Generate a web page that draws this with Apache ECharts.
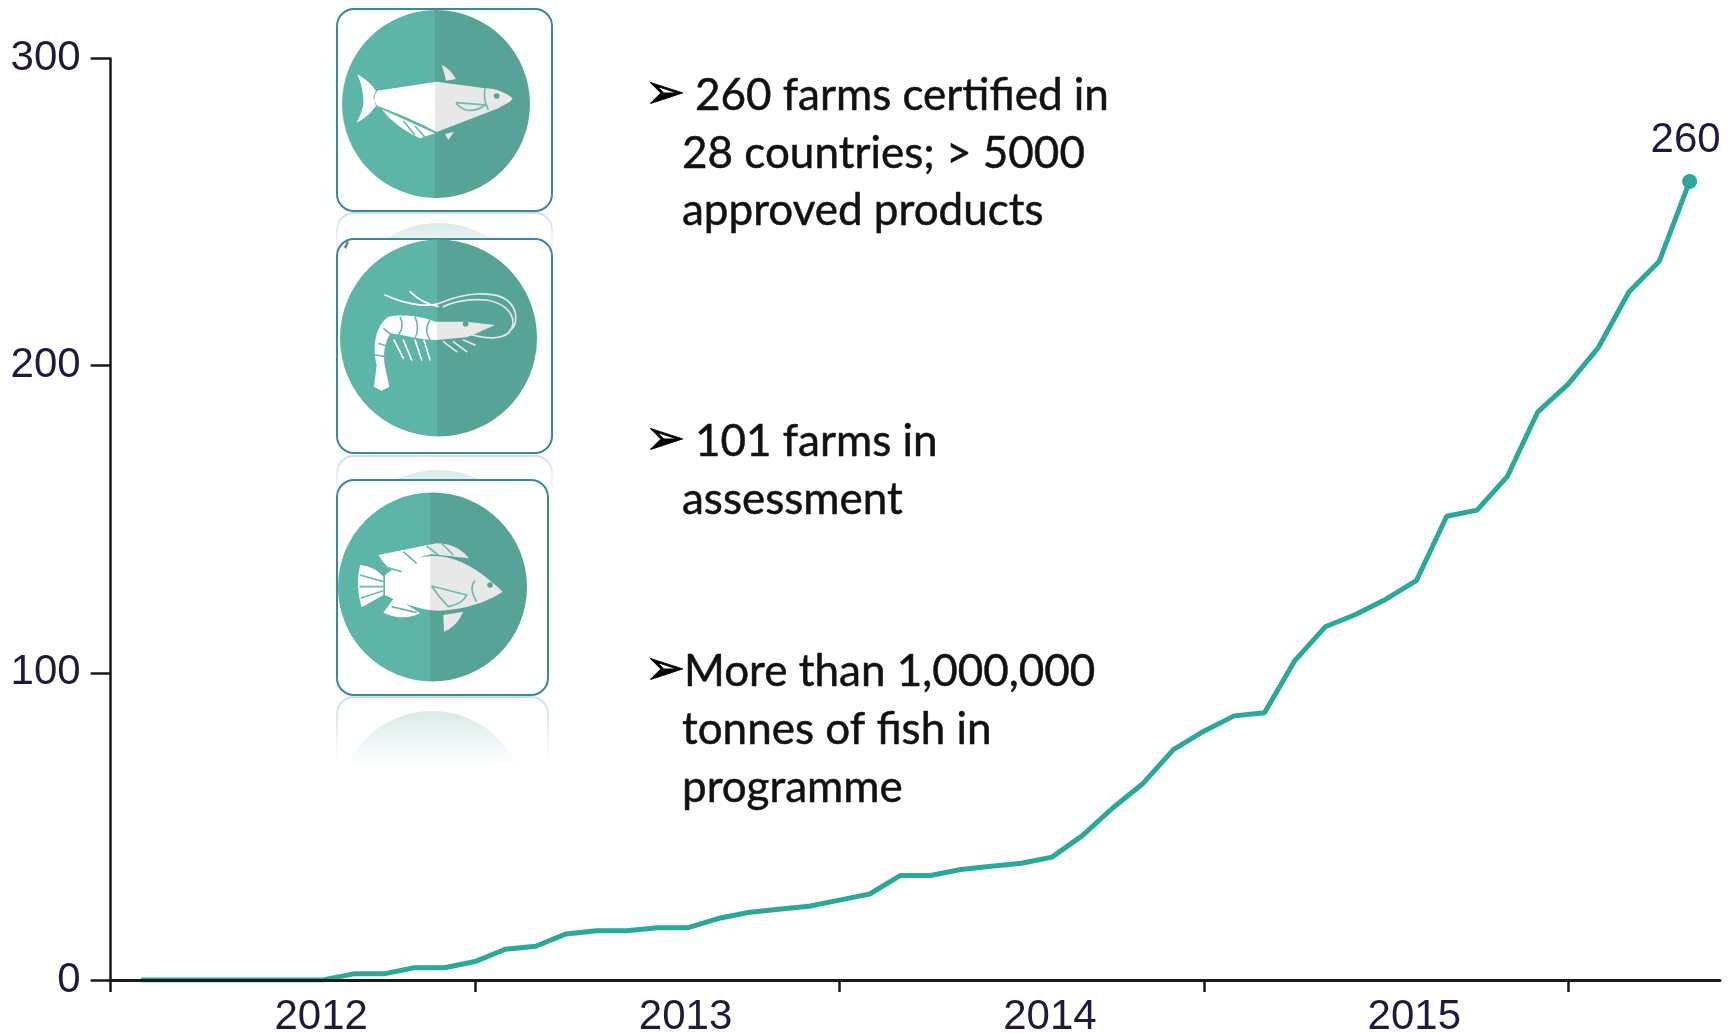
<!DOCTYPE html>
<html><head><meta charset="utf-8">
<script src="https://cdn.jsdelivr.net/npm/echarts@6/dist/echarts.min.js"></script>
<style>html,body{margin:0;padding:0;background:#fff}#c{width:1734px;height:1033px}</style>
</head><body><div id="c"></div>
<script>
const yearLabels = ['2012','2013','2014','2015'];
const farmsCertified = [null,
 0,0,0,0,0,0,0,2,2,4,4,6,
 10,11,15,16,16,17,17,20,22,23,24,26,
 28,34,34,36,37,38,40,47,56,64,75,81,
 86,87,104,115,119,124,130,151,153,164,185,194,
 206,224,234,260,null];
const yTicks = {min:0,max:300,interval:100};
const notes = [
 {lines:['260 farms certified in','28 countries; > 5000','approved products'], first:695, rest:682, y:[96,154,211], ay:96},
 {lines:['101 farms in','assessment'], first:695, rest:682, y:[442,500], ay:442},
 {lines:['More than 1,000,000','tonnes of fish in','programme'], first:684, rest:682, y:[672,730,788], ay:672}
];
const categories = farmsCertified.map((v,i)=> i%12===7 ? yearLabels[(i-7)/12] : String(i));
const lastIdx = farmsCertified.length-2;

const TEAL_L='#5db5a8', TEAL_R='#57a398', BOX='#3a87a0', LINE='#2aa899';
const g=[];
let shapeCount=0;
function shapeFrom(d){
  const name='artShape'+(shapeCount++);
  echarts.graphic.registerShape(name,echarts.graphic.extendPath(d,{}));
  return name;
}
function cap(cx,cy,r,top,h){
  g.push({type:'circle',silent:true,z:1,shape:{cx,cy,r},style:{fill:new echarts.graphic.LinearGradient(0,top,0,top+h,[
    {offset:0,color:'rgba(87,163,152,0.24)'},{offset:1,color:'rgba(87,163,152,0)'}],true)}});
}
function reflect(x,y,w,h){
  g.push({type:'rect',silent:true,z:1,shape:{x,y,width:w,height:h,r:[17,17,0,0]},style:{fill:'rgba(0,0,0,0)',lineWidth:2,
    stroke:new echarts.graphic.LinearGradient(0,y,0,y+h,[{offset:0,color:'rgba(58,135,160,0.25)'},{offset:1,color:'rgba(58,135,160,0)'}],true)}});
}
function box(x,y,w,h){
  g.push({type:'rect',silent:true,z:2,shape:{x,y,width:w,height:h,r:17},style:{fill:'#fff',stroke:BOX,lineWidth:2}});
}
function disc(cx,cy,r,split){
  g.push({type:'circle',silent:true,z:3,shape:{cx,cy,r},style:{fill:new echarts.graphic.LinearGradient(cx-r,0,cx+r,0,[
    {offset:0,color:TEAL_L},{offset:(split-cx+r)/(2*r),color:TEAL_L},{offset:(split-cx+r)/(2*r),color:TEAL_R},{offset:1,color:TEAL_R}],true)}});
}
function art(ox,oy,split,fillD,strokeWhite,strokeTeal,eye){
  const grad=()=>new echarts.graphic.LinearGradient(0,0,2000,0,[
    {offset:0,color:'#fff'},{offset:split/2000,color:'#fff'},{offset:split/2000,color:'#e8e8e8'},{offset:1,color:'#e8e8e8'}],true);
  const base={silent:true,z:4,x:ox,y:oy,scaleX:1/3,scaleY:1/3};
  if(fillD) g.push(Object.assign({type:shapeFrom(fillD),style:{fill:grad(),stroke:'none'}},base));
  if(strokeWhite) g.push(Object.assign({type:shapeFrom(strokeWhite),style:{fill:'none',stroke:grad(),lineWidth:5,lineCap:'round'}},base));
  if(strokeTeal) g.push(Object.assign({type:shapeFrom(strokeTeal),style:{fill:'none',stroke:'#6fb8ad',lineWidth:5}},base));
  g.push({type:'circle',silent:true,z:4,shape:{cx:ox+eye[0]/3,cy:oy+eye[1]/3,r:2.8},style:{fill:'#5a9f95'}});
}

// reflections
reflect(337,213,215,40); cap(438,318,95,224,30);
reflect(337,456,215,40); cap(438,568,98,470,30);
reflect(337,697,211,66); cap(432,805,94,710,56);
// boxes and discs
box(337,9,215,202); disc(436,104,94,435);
box(337,239,215,214); disc(438.5,338,98.5,437);
box(337,480,211,215); disc(432.5,587,94.5,430);
g.push({type:'polygon',silent:true,z:5,shape:{points:[[344,247],[347,241],[349,242],[346,249]]},style:{fill:'#777'}});

art(320,0,345,
 'M112,222 Q150,245 168,272 L160,292 L168,318 Q140,355 110,368 Q135,320 130,295 Q128,260 112,222Z '+
 'M172,272 L350,245 L495,265 C530,265 560,280 578,295 C570,310 555,312 535,325 L350,396 C300,368 220,335 172,318 C160,300 160,290 172,272Z '+
 'M365,195 Q390,205 408,237 L378,242 Q372,215 365,195Z '+
 'M185,328 L345,400 L300,415 Q230,385 185,328Z M375,402 L402,395 L385,420Z',
 null,
 'M408,308 L495,315 Q470,335 440,330 Q420,325 408,308 M495,265 Q488,295 505,330 M250,362 L285,405 M285,378 L315,412',
 [530,288]);

art(320,0,352,
 'M205,950 C240,943 300,945 345,965 L440,965 L525,975 L470,1000 L440,1012 L350,1020 C300,1020 250,1005 212,1000 C192,1030 190,1060 194,1095 L208,1160 L185,1172 L162,1160 L170,1095 C155,1030 170,975 205,950Z',
 'M195,885 C260,915 330,925 370,905 C430,880 520,870 560,900 C600,930 590,980 570,990 M270,875 C300,905 330,915 355,920 M440,1000 C500,1020 560,1020 575,985 C590,950 560,910 500,900 C450,895 400,905 370,920 M222,1020 L250,1075 M250,1020 L275,1080 M285,1020 L305,1080 M312,1020 L330,1080 M370,1025 L410,1055 M400,1025 L440,1055 M430,1020 L465,1035',
 'M240,950 Q255,980 235,1005 M285,950 Q300,985 285,1015 M330,960 Q310,990 330,1020 M190,985 L215,1005 M175,1030 L205,1040 M165,1065 L200,1070',
 [437,972]);

art(320,460,330,
 'M195,345 C240,312 280,292 335,288 C400,285 470,320 548,395 C510,420 460,440 400,448 C340,460 280,445 195,405Z '+
 'M190,350 L190,405 L125,442 Q105,380 120,315 Q165,320 190,350Z '+
 'M175,285 L350,250 Q410,250 447,295 L335,283 Q280,290 235,345 Q195,320 175,285Z '+
 'M190,458 L225,410 L300,460 Q250,485 190,458Z M370,465 L430,455 Q410,500 372,515Z',
 null,
 'M335,378 L440,405 Q430,430 385,440 Q355,410 335,378 M465,362 Q445,385 470,425 M120,345 L190,365 M118,380 L190,380 M122,415 L190,392 M250,275 L290,310 M320,258 L355,285 M365,250 L400,285 M190,320 L245,335 M215,440 L290,458',
 [510,375]);

// notes
notes.forEach(n=>{
  g.push({type:'text',silent:true,z:6,x:645,y:n.ay,style:{text:'\u27A2',font:'48px "DejaVu Sans"',fill:'#000',stroke:'#000',lineWidth:0.8,textVerticalAlign:'middle'}});
  n.lines.forEach((t,i)=>{
    g.push({type:'text',silent:true,z:6,x:i?n.rest:n.first,y:n.y[i],style:{text:t,font:'44px Lato',fill:'#111',stroke:'#111',lineWidth:0.5,textVerticalAlign:'middle'}});
  });
});

const chart=echarts.init(document.getElementById('c'),null,{renderer:'canvas'});
chart.setOption({
  animation:false,
  backgroundColor:'#fff',
  grid:{left:110.6,right:14,top:58.6,bottom:53,containLabel:false,outerBoundsMode:'none'},
  xAxis:{type:'category',boundaryGap:false,data:categories,z:5,
    axisLine:{show:true,onZero:false,lineStyle:{color:'#1a1a1a',width:3}},
    axisTick:{show:true,length:12,interval:i=>i%12===0,lineStyle:{color:'#1a1a1a',width:2.5}},
    axisLabel:{show:true,interval:i=>i%12===7,margin:16,hideOverlap:false,padding:[0,4,0,0],fontFamily:'Liberation Sans',fontSize:42,color:'#1c1c3a'},
    splitLine:{show:false}},
  yAxis:{type:'value',min:yTicks.min,max:yTicks.max,interval:yTicks.interval,z:5,
    axisLine:{show:true,lineStyle:{color:'#1a1a1a',width:2.5}},
    axisTick:{show:true,length:20,lineStyle:{color:'#1a1a1a',width:2.5}},
    axisLabel:{margin:30,fontFamily:'Liberation Sans',fontSize:42,color:'#1c1c3a'},
    splitLine:{show:false}},
  series:[{type:'line',z:2,connectNulls:false,
    data:farmsCertified,
    showAllSymbol:true,showSymbol:true,symbol:'circle',
    symbolSize:(v,p)=>p.dataIndex===lastIdx?15:0,
    lineStyle:{color:LINE,width:5},
    itemStyle:{color:LINE},
    label:{show:true,position:'top',distance:13,offset:[-4,0],fontFamily:'Liberation Sans',fontSize:42,color:'#1c1c3a',
      formatter:p=>p.dataIndex===lastIdx?String(p.value):''}
  }],
  graphic:{elements:g}
});
</script></body></html>
